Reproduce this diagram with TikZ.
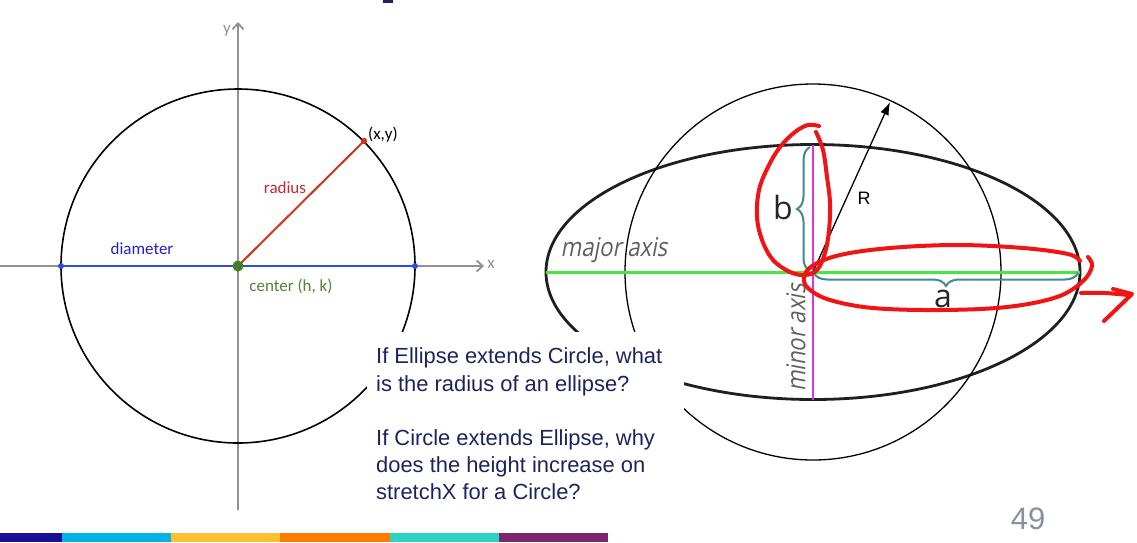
\documentclass[tikz,border=0pt]{standalone}
\usepackage{fontspec}
\setmainfont{Liberation Sans}
\newfontfamily\calib{Carlito}
\newfontfamily\osans{Open Sans}
\newfontfamily\osansit[FakeSlant=0.22]{Open Sans}
\usetikzlibrary{arrows.meta,decorations.pathreplacing}
\definecolor{navy}{RGB}{28,36,96}
\definecolor{axisgray}{RGB}{145,145,145}
\definecolor{diamblue}{RGB}{45,75,230}
\definecolor{diamtext}{RGB}{35,35,200}
\definecolor{radred}{RGB}{205,55,25}
\definecolor{radtext}{RGB}{195,40,45}
\definecolor{ctrgreen}{RGB}{70,125,40}
\definecolor{ctrtext}{RGB}{80,135,50}
\definecolor{majgreen}{RGB}{70,230,60}
\definecolor{minmag}{RGB}{220,50,225}
\definecolor{braceteal}{RGB}{62,140,142}
\definecolor{labgray}{RGB}{95,95,95}
\definecolor{annred}{RGB}{240,20,20}
\definecolor{pagegray}{RGB}{138,143,160}
\definecolor{barA}{RGB}{26,16,150}
\definecolor{barB}{RGB}{0,178,230}
\definecolor{barC}{RGB}{255,192,46}
\definecolor{barD}{RGB}{255,124,0}
\definecolor{barE}{RGB}{45,210,192}
\definecolor{barF}{RGB}{126,36,104}
\tikzset{
  axisline/.style={draw=axisgray, line width=1.8pt, -{Straight Barb[length=6pt,width=11pt,line width=1.8pt]}},
  diamline/.style={draw=diamblue, line width=2pt},
  radline/.style={draw=radred, line width=2pt},
  lbl/.style={inner sep=0pt, font=\calib\fontsize{17}{18}\selectfont},
  ellline/.style={draw=black!88, line width=2.8pt},
  thincirc/.style={draw=black, line width=1.3pt},
  bracestyle/.style={draw=braceteal, line width=2pt, decorate, decoration={brace, amplitude=13pt}},
  axlabel/.style={inner sep=0pt, text=labgray, font=\osansit\fontsize{26}{28}\selectfont},
  annot/.style={draw=annred, line width=4pt, line cap=round, line join=round},
  qline/.style={anchor=base west, inner sep=0pt, text=navy, font=\fontsize{21.9}{27.5}\selectfont}
}
\begin{document}
\begin{tikzpicture}[x=1pt,y=-1pt]
\useasboundingbox (0,0) rectangle (1137,542);
\fill[white] (0,0) rectangle (1137,542);
% title remnant
\fill[navy] (383,0) rectangle (393,3);

% ---------- left diagram ----------
\coordinate (C1) at (238,266);
\coordinate (xl) at (0,266);
\coordinate (xr) at (484,266);
\coordinate (yb) at (238,510);
\coordinate (yt) at (238,22);
\coordinate (D1) at (61,266);
\coordinate (D2) at (415,266);
\coordinate (P) at (364,141);
\draw[axisline] (xl) -- (xr);
\draw[axisline] (yb) -- (yt);
\draw[line width=1.6pt, black] (C1) circle[radius=177];
\draw[diamline] (D1) -- (D2);
\draw[radline] (C1) -- (P);
\fill[diamblue] (D1) circle[radius=3];
\fill[diamblue] (D2) circle[radius=3];
\fill[ctrgreen] (C1) circle[radius=5.5];
\fill[radred] (P) circle[radius=3.2];
\node[lbl, text=axisgray] (ylab) at (227,31) {y};
\node[lbl, text=axisgray] (xlab) at (491,264) {x};
\node[lbl, text=black] (ptlab) at (383,135) {(x,y)};
\node[lbl, text=radtext] (radlab) at (285,188) {radius};
\node[lbl, text=diamtext] (diamlab) at (142,249) {diameter};
\node[lbl, text=ctrtext] (ctrlab) at (291,286) {center (h, k)};

% ---------- right diagram ----------
\coordinate (C2) at (813,272);
\coordinate (ML) at (546,272);
\coordinate (MR) at (1080,272);
\coordinate (mT) at (813,145);
\coordinate (mB) at (813,400);
\coordinate (RT) at (890,102);
\coordinate (bB) at (810,271);
\coordinate (bT) at (810,147);
\coordinate (aR) at (1078,273);
\coordinate (aL) at (814,273);
\draw[ellline] (C2) ellipse[x radius=267, y radius=127.5];
\node[axlabel] (majlab) at (614,250) {\scalebox{0.85}[1]{major axis}};
\node[axlabel, rotate=90] (minlab) at (796,338) {\scalebox{0.85}[1]{minor axis}};
\draw[thincirc] (C2) circle[radius=188];
\draw[draw=majgreen, line width=3pt] (ML) -- (MR);
\draw[draw=minmag, line width=2.2pt] (mT) -- (mB);
\draw[bracestyle] (bB) -- (bT);
\draw[bracestyle] (aR) -- (aL);
\node[inner sep=0pt, text=black!85, font=\osans\fontsize{32}{34}\selectfont] (blab) at (783,207) {b};
\node[inner sep=0pt, text=black!85, font=\osans\fontsize{32}{34}\selectfont] (alab) at (943,299) {a};
\node[inner sep=0pt, text=black, font=\fontsize{18}{20}\selectfont] (Rlab) at (864,198) {R};
\draw[line width=1.3pt, -{Latex[length=13pt,width=9pt]}] (C2) -- (RT);

% white panel behind the questions
\fill[white] (367,332) rectangle (684,531);
\node[qline] (q1) at (376,363) {If Ellipse extends Circle, what};
\node[qline] (q2) at (376,391) {is the radius of an ellipse?};
\node[qline] (q3) at (376,445) {If Circle extends Ellipse, why};
\node[qline] (q4) at (376,472) {does the height increase on};
\node[qline] (q5) at (376,499) {stretchX for a Circle?};

% red annotations
\draw[annot] plot[smooth, tension=0.6] coordinates {(819,126) (808,125) (795,132) (780,147) (768,167) (759,190) (757,217) (762,240) (773,260) (790,272) (805,275) (817,270) (825,253) (829,230) (830,203) (827,177) (823,150) (816,132)};
\draw[annot] plot[smooth, tension=0.6] coordinates {(1080,261) (1068,254) (1023,248) (957,245) (890,248) (840,255) (812,266) (804,278) (809,289) (830,300) (873,308) (940,310) (1007,307) (1057,297) (1083,281) (1092,266) (1088,257)};
\draw[annot] plot[smooth, tension=0.5] coordinates {(1081,293) (1105,293) (1128,295)};
\draw[annot] (1113,289) -- (1132,294) -- (1104,321);

% page number
\node[inner sep=0pt, text=pagegray, font=\fontsize{31}{33}\selectfont] (pnum) at (1028,518.5) {49};

% bottom colour bar
\fill[barA] (0,533) rectangle (62,542);
\fill[barB] (62,533) rectangle (171,542);
\fill[barC] (171,533) rectangle (280,542);
\fill[barD] (280,533) rectangle (390,542);
\fill[barE] (390,533) rectangle (499,542);
\fill[barF] (499,533) rectangle (608,542);
\end{tikzpicture}
\end{document}
